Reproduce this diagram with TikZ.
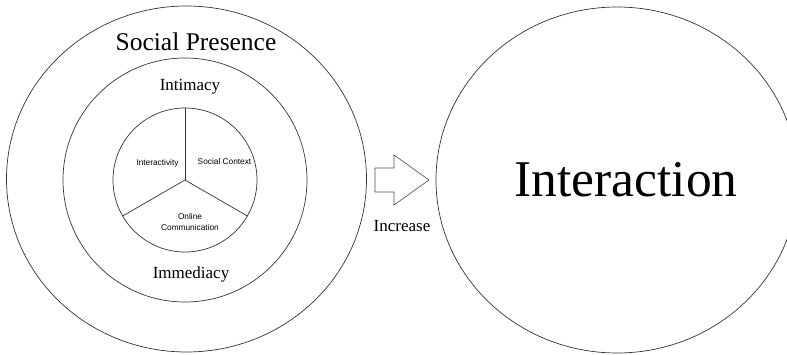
\documentclass[tikz,border=0pt]{standalone}
\usepackage{fontspec}
\usetikzlibrary{shapes.geometric}
\setmainfont{Liberation Serif}
\newfontfamily\smallsans{Liberation Sans}
\begin{document}
\begin{tikzpicture}[x=1pt,y=-1pt,
  ring/.style={draw=black!80,line width=0.7pt},
  bigtext/.style={inner sep=0pt,font=\fontsize{25.5}{28}\selectfont},
  midtext/.style={inner sep=0pt,font=\fontsize{17}{19}\selectfont},
  smalltext/.style={inner sep=0pt,font=\smallsans\fontsize{8.3}{10}\selectfont,align=center}]
\useasboundingbox (0,0) rectangle (787,355);
\clip (0,0) rectangle (787,355);
% left circles
\node[ring,ellipse,minimum width=360pt,minimum height=346pt,inner sep=0pt] (outer) at (186.5,179) {};
\node[ring,circle,minimum size=244pt,inner sep=0pt] (middle) at (185,180) {};
\node[ring,circle,minimum size=144pt,inner sep=0pt] (inner) at (185,180) {};
\coordinate (hub) at (185,180);
\draw[ring] (hub) -- (inner.90);
\draw[ring] (hub) -- (inner.210);
\draw[ring] (hub) -- (inner.330);
% texts
\node[bigtext] (sp) at (196,42) {Social Presence};
\node[midtext] (intim) at (190,87) {Intimacy};
\node[midtext] (immed) at (191,274) {Immediacy};
\node[smalltext] (inter) at (157.5,163) {Interactivity};
\node[smalltext] (sc) at (224.5,162) {Social Context};
\node[smalltext] (oc) at (190,222) {Online\\[1pt]Communication};
% arrow
\draw[draw=black!70,line width=0.6pt,line join=miter]
  (375,168) -- (394,168) -- (394,155) -- (429,180) -- (394,205) -- (394,192) -- (375,192) -- cycle;
\node[midtext] (inc) at (402,226) {Increase};
% right circle
\node[ring,ellipse,minimum width=362pt,minimum height=346pt,inner sep=0pt] (right) at (617,180) {};
\node[inner sep=0pt,font=\fontsize{51.5}{56}\selectfont] (interaction) at (626,180) {Interaction};
\end{tikzpicture}
\end{document}
